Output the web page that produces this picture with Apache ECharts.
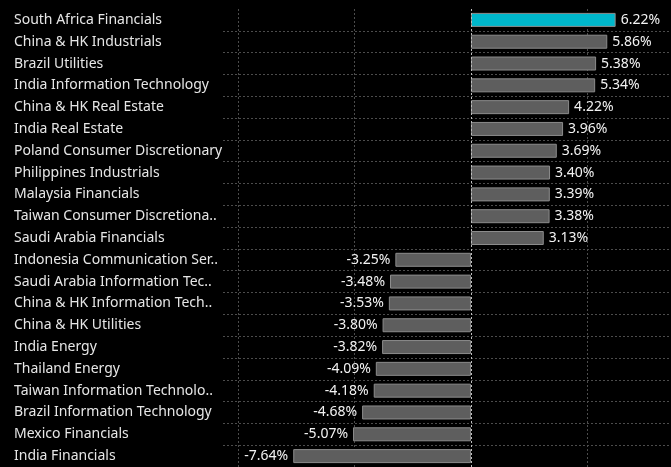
<!DOCTYPE html>
<html>
<head>
<meta charset="utf-8">
<script src="https://cdn.jsdelivr.net/npm/echarts@6/dist/echarts.min.js"></script>
<style>
  html, body { margin: 0; padding: 0; background: #000; }
  #chart { width: 671px; height: 467px; }
</style>
</head>
<body>
<div id="chart"></div>
<script>
var categories = [
  'South Africa Financials',
  'China & HK Industrials',
  'Brazil Utilities',
  'India Information Technology',
  'China & HK Real Estate',
  'India Real Estate',
  'Poland Consumer Discretionary',
  'Philippines Industrials',
  'Malaysia Financials',
  'Taiwan Consumer Discretiona..',
  'Saudi Arabia Financials',
  'Indonesia Communication Ser..',
  'Saudi Arabia Information Tec..',
  'China & HK Information Tech..',
  'China & HK Utilities',
  'India Energy',
  'Thailand Energy',
  'Taiwan Information Technolo..',
  'Brazil Information Technology',
  'Mexico Financials',
  'India Financials'
];
var values = [6.22, 5.86, 5.38, 5.34, 4.22, 3.96, 3.69, 3.40, 3.39, 3.38, 3.13,
  -3.25, -3.48, -3.53, -3.80, -3.82, -4.09, -4.18, -4.68, -5.07, -7.64];
var highlightIndex = 0;

var chart = echarts.init(document.getElementById('chart'));

var barData = values.map(function (v, i) {
  return {
    value: v,
    itemStyle: { color: i === highlightIndex ? '#00b7cb' : '#5e5e5e' },
    label: { position: v >= 0 ? 'right' : 'left' }
  };
});

var option = {
  backgroundColor: '#000',
  animation: false,
  textStyle: { fontFamily: 'Noto Sans' },
  grid: { left: 223, right: 0, top: 9, bottom: -1, containLabel: false },
  xAxis: {
    type: 'value',
    min: -10.66,
    max: 8.6,
    splitNumber: 4,
    axisLine: { show: false },
    axisTick: { show: false },
    axisLabel: { show: false },
    splitLine: {
      show: true,
      showMinLine: false,
      showMaxLine: false,
      lineStyle: { color: '#4c4c4c', type: [2, 2], width: 1 }
    }
  },
  yAxis: {
    type: 'category',
    data: categories,
    inverse: true,
    axisLine: { show: false },
    axisTick: { show: false },
    axisLabel: {
      align: 'left',
      margin: 209,
      color: '#e6e6e6',
      fontSize: 14
    },
    splitLine: {
      show: true,
      showMinLine: false,
      lineStyle: { color: '#4c4c4c', type: [2, 2], width: 1 }
    }
  },
  series: [{
    type: 'bar',
    data: barData,
    barWidth: 14,
    itemStyle: { borderColor: '#8c8c8c', borderWidth: 1 },
    label: {
      show: true,
      distance: 5,
      color: '#f2f2f2',
      fontSize: 14,
      formatter: function (p) { return p.value.toFixed(2) + '%'; }
    },
    markLine: {
      silent: true,
      symbol: 'none',
      label: { show: false },
      lineStyle: { color: '#bdbdbd', type: [2, 2], width: 1 },
      data: [{ xAxis: 0 }]
    }
  }]
};

chart.setOption(option);
</script>
</body>
</html>
